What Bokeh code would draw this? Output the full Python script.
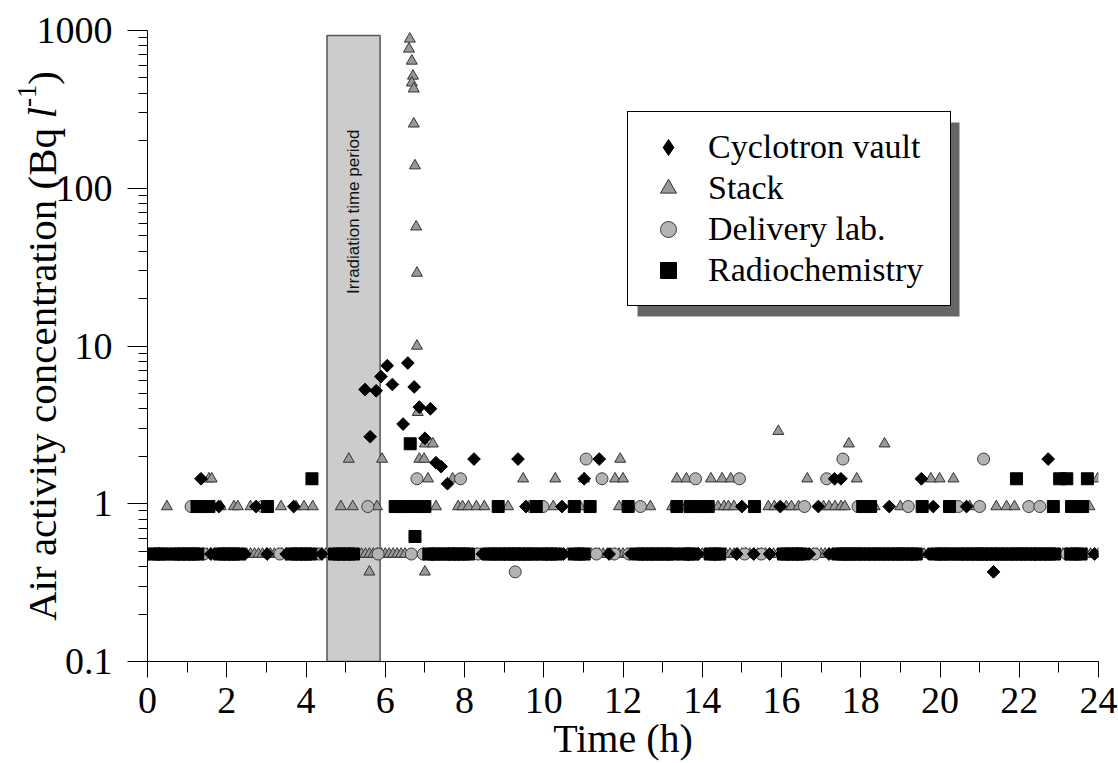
import math
from bokeh.plotting import figure
from bokeh.layouts import row
from bokeh.models import (FixedTicker, Label, BoxAnnotation, Legend, LegendItem, Range1d,
                          ColumnDataSource, CustomJSTickFormatter)
from bokeh.core.properties import value
from bokeh.embed import file_html
from bokeh.resources import INLINE

# ---------------- data ----------------
X_TICKS = [0, 2, 4, 6, 8, 10, 12, 14, 16, 18, 20, 22, 24]
X_MINOR = [1, 3, 5, 7, 9, 11, 13, 15, 17, 19, 21, 23]
Y_TICKS = [0.1, 1, 10, 100, 1000]
Y_MINOR = [0.2, 0.3, 0.4, 0.5, 0.6, 0.7, 0.8, 0.9, 2, 3, 4, 5, 6, 7, 8, 9,
           20, 30, 40, 50, 60, 70, 80, 90, 200, 300, 400, 500, 600, 700, 800, 900]
Y_TICK_LABELS = ["0.1", "1", "10", "100", "1000"]

IRR_START = 4.53
IRR_END = 5.87
IRR_TOP = 930

# Cyclotron vault (diamonds)
cyc_at_037 = [21.35]
cyc_at_048 = [0.6, 1.6, 2.46, 3.02, 3.5, 4.4, 7.75, 8.45, 9.2, 10.5, 11.65, 12.2, 13.9, 14.87,
              15.3, 15.7, 16.0, 16.7, 17.2, 19.0, 19.72, 21.6, 22.4, 23.9]
cyc_at_096 = [1.8, 2.74, 3.69, 6.32, 9.55, 10.46, 15.0, 15.97, 16.93, 18.72, 19.83, 20.67]
cyc_at_144 = [1.35, 11.02, 17.34, 17.5, 19.53]
cyc_at_192 = [8.24, 9.35, 11.4, 22.73]
cyc_peak_t = [5.49, 5.62, 5.77, 5.89, 6.05, 6.18, 6.45, 6.57, 6.73, 6.86, 7.0, 7.14, 7.28, 7.41, 7.57]
cyc_peak_v = [5.3, 2.66, 5.2, 6.4, 7.5, 5.7, 3.2, 7.8, 5.5, 4.1, 2.6, 4.0, 1.82, 1.72, 1.34]

# Stack (triangles)
stack_at_037 = [5.6, 7.0]
stack_at_048 = [0.0, 0.1, 0.2, 0.3, 0.4, 0.5, 0.6, 0.7, 0.8, 0.9, 1.0, 1.1, 1.2, 1.3, 1.4, 1.5,
                1.6, 1.7, 1.8, 1.9, 2.0, 2.1, 2.2, 2.3, 2.4, 2.5, 2.6, 2.7, 2.8, 2.9, 3.0, 3.1,
                3.2, 3.3, 3.4, 3.5, 3.6, 3.7, 3.8, 3.9, 4.0, 4.1, 4.2, 4.3, 4.4, 4.5, 4.6, 4.7,
                4.8, 4.9, 5.0, 5.1, 5.2, 5.3, 5.4, 5.5, 5.6, 5.7, 5.8, 5.9, 6.0, 6.1, 6.2, 6.3,
                6.4, 6.5, 7.4, 7.5, 7.6, 7.7, 7.8, 7.9, 8.0, 8.1, 8.2, 8.3, 8.4, 8.5, 8.6, 8.7,
                8.8, 8.9, 9.0, 9.1, 9.2, 9.3, 9.4, 9.5, 9.6, 9.7, 9.8, 9.9, 10.0, 10.1, 10.2,
                10.3, 10.4, 10.5, 10.6, 10.7, 10.8, 10.9, 11.0, 11.1, 11.2, 11.3, 11.4, 11.5,
                11.6, 11.7, 11.8, 11.9, 12.0, 12.1, 12.2, 12.3, 12.4, 12.5, 12.6, 12.7, 12.8,
                12.9, 13.0, 13.1, 13.2, 13.3, 13.4, 13.5, 13.6, 13.7, 13.8, 13.9, 14.0, 14.1,
                14.2, 14.3, 14.4, 14.5, 14.6, 14.7, 14.8, 14.9, 15.0, 15.1, 15.2, 15.3, 15.4,
                15.5, 15.6, 15.7, 15.8, 15.9, 16.0, 16.1, 16.2, 16.3, 16.4, 16.5, 16.6, 16.7,
                16.8, 16.9, 17.0, 17.1, 17.2, 17.3, 17.4, 17.5, 17.6, 17.7, 17.8, 17.9, 18.0,
                18.1, 18.2, 18.3, 18.4, 18.5, 18.6, 18.7, 18.8, 18.9, 19.0, 19.1, 19.2, 19.3,
                19.4, 19.5, 19.6, 19.7, 19.8, 19.9, 20.0, 20.1, 20.2, 20.3, 20.4, 20.5, 20.6,
                20.7, 20.8, 20.9, 21.0, 21.1, 21.2, 21.3, 21.4, 21.5, 21.6, 21.7, 21.8, 21.9,
                22.0, 22.1, 22.2, 22.3, 22.4, 22.5, 22.6, 22.7, 22.8, 22.9, 23.0, 23.1, 23.2,
                23.3, 23.4, 23.5, 23.6, 23.7, 23.8, 23.9, 24.0]
stack_at_096 = [0.49, 1.85, 2.18, 2.28, 2.6, 3.37, 3.75, 3.95, 4.17, 4.88, 5.18, 5.79, 7.28,
                7.84, 7.95, 8.1, 8.3, 8.5, 9.1, 10.24, 10.92, 11.9, 12.69, 13.24, 13.59, 14.4,
                14.55, 14.66, 14.8, 15.67, 15.82, 16.12, 16.25, 16.43, 17.06, 17.2, 17.35, 17.5,
                17.6, 18.35, 19.0, 20.75, 21.42, 21.68, 21.88, 23.77]
stack_at_144 = [1.55, 1.62, 7.08, 7.7, 9.48, 10.29, 11.02, 11.8, 12.0, 13.36, 13.6, 14.22,
                14.5, 14.72, 16.65, 17.9, 19.77, 19.99, 20.34, 23.98]
stack_at_192 = [5.08, 5.92, 6.86, 6.98, 11.93]
stack_at_240 = [7.0, 7.2, 17.7, 18.6]
stack_at_288 = [15.92]
stack_peak_t = [6.62, 6.6, 6.67, 6.7, 6.67, 6.72, 6.72, 6.75, 6.78, 6.8, 6.8, 6.82]
stack_peak_v = [884, 764, 641, 515, 466, 427, 256, 139, 57, 29, 10, 3.8]

# Delivery lab. (circles)
del_at_037 = [9.28]
del_at_048 = [0.03, 0.46, 1.42, 3.34, 4.33, 5.82, 6.66, 6.96, 8.34, 8.54, 9.8, 11.33, 11.78,
              12.15, 13.4, 15.07, 15.49, 16.84, 17.94, 21.3, 22.4, 23.2]
del_at_096 = [1.1, 2.9, 5.56, 9.68, 9.98, 12.44, 16.58, 17.93, 19.2, 20.46, 21.0, 22.24, 22.52]
del_at_144 = [6.8, 7.9, 11.47, 13.83, 14.94, 17.14]
del_at_192 = [11.07, 17.55, 21.1]

# Radiochemistry (squares)
rad_at_048 = [0.16, 0.28, 0.4, 0.68, 0.8, 0.92, 1.04, 1.16, 1.27, 1.82, 1.94, 2.06, 2.18, 2.3,
              3.64, 3.76, 3.88, 4.0, 4.12, 4.72, 4.84, 4.96, 5.08, 5.2, 7.1, 7.22, 7.32, 7.5,
              7.62, 7.74, 7.86, 7.98, 8.1, 8.62, 8.74, 8.88, 9.02, 9.14, 9.26, 9.38, 9.5, 9.62,
              9.74, 9.95, 10.07, 10.19, 10.32, 10.77, 10.9, 11.02, 12.38, 12.5, 12.62, 12.74,
              12.86, 13.0, 13.12, 13.24, 13.54, 13.66, 13.76, 14.2, 14.32, 14.44, 16.05, 16.17,
              16.29, 16.41, 16.5, 17.42, 17.54, 17.66, 17.72, 17.86, 17.98, 18.1, 18.22, 18.34,
              18.46, 18.58, 18.7, 18.82, 18.94, 19.06, 19.18, 19.3, 19.4, 19.9, 20.02, 20.14,
              20.28, 20.46, 20.58, 20.7, 20.82, 20.94, 21.06, 21.14, 21.3, 21.42, 21.54, 21.7,
              21.82, 21.94, 22.05, 22.17, 22.29, 22.41, 22.53, 22.65, 22.77, 22.89, 23.3,
              23.42, 23.56]
rad_at_062 = [6.75]
rad_at_096 = [1.25, 1.4, 1.55, 3.03, 6.25, 6.4, 6.55, 6.85, 7.0, 8.85, 9.81, 10.77, 11.17,
              12.13, 13.36, 13.7, 13.85, 14.0, 14.15, 15.32, 18.05, 18.25, 19.55, 20.24, 22.86,
              23.32, 23.45, 23.6]
rad_at_144 = [4.15, 21.93, 23.02, 23.2, 23.72]
rad_at_240 = [6.63]


def build(level_lists, peak_t=(), peak_v=()):
    xs, ys = [], []
    for lvl, ts in level_lists:
        xs += list(ts)
        ys += [lvl] * len(ts)
    xs += list(peak_t)
    ys += list(peak_v)
    return ColumnDataSource(dict(x=xs, y=ys))


src_cyc = build([(0.37, cyc_at_037), (0.48, cyc_at_048), (0.96, cyc_at_096),
                 (1.44, cyc_at_144), (1.92, cyc_at_192)], cyc_peak_t, cyc_peak_v)
src_stack = build([(0.37, stack_at_037), (0.48, stack_at_048), (0.96, stack_at_096),
                   (1.44, stack_at_144), (1.92, stack_at_192), (2.4, stack_at_240),
                   (2.88, stack_at_288)], stack_peak_t, stack_peak_v)
src_del = build([(0.37, del_at_037), (0.48, del_at_048), (0.96, del_at_096),
                 (1.44, del_at_144), (1.92, del_at_192)])
src_rad = build([(0.48, rad_at_048), (0.62, rad_at_062), (0.96, rad_at_096),
                 (1.44, rad_at_144), (2.4, rad_at_240)])

SERIF = "Liberation Serif"

# ---------------- layout geometry ----------------
H = 763
TOP = 30
BOTTOM = 101
LEFT_W = 115           # strip holding the y title and y tick labels
MAIN_W = 1118 - LEFT_W
FRAME_H = H - TOP - BOTTOM
DEC = FRAME_H / 4.0    # pixels per decade

# ---------------- main figure ----------------
p = figure(width=MAIN_W, height=H, y_axis_type="log",
           x_range=Range1d(0, 24), y_range=Range1d(Y_TICKS[0], Y_TICKS[-1]),
           output_backend="svg", toolbar_location=None,
           min_border_left=147 - LEFT_W, min_border_right=20,
           min_border_top=TOP, min_border_bottom=BOTTOM)
p.outline_line_color = None
p.xgrid.visible = False
p.ygrid.visible = False
p.background_fill_color = "white"
p.border_fill_color = "white"

p.xaxis.ticker = FixedTicker(ticks=X_TICKS, minor_ticks=X_MINOR)
p.yaxis.ticker = FixedTicker(ticks=Y_TICKS, minor_ticks=Y_MINOR)

for ax in (p.xaxis[0], p.yaxis[0]):
    ax.axis_line_color = "black"
    ax.axis_line_width = 1
    ax.major_tick_line_color = "black"
    ax.minor_tick_line_color = "black"
    ax.major_tick_in = 0
    ax.minor_tick_in = 0
    ax.major_label_text_font = SERIF
    ax.major_label_text_color = "black"

p.xaxis.major_label_text_font_size = "38px"
p.xaxis.major_tick_out = 16
p.xaxis.minor_tick_out = 11
p.xaxis.major_label_standoff = 10
p.yaxis.major_tick_out = 20
p.yaxis.minor_tick_out = 9
# y tick labels are drawn in the left strip (so the title can sit beside them)
p.yaxis.formatter = CustomJSTickFormatter(code="return ''")
p.yaxis.major_label_text_font_size = "10px"
p.yaxis.major_label_standoff = 0

p.xaxis.axis_label = "Time (h)"
p.xaxis.axis_label_text_font = SERIF
p.xaxis.axis_label_text_font_size = "40px"
p.xaxis.axis_label_text_font_style = "normal"
p.xaxis.axis_label_text_color = "black"
p.xaxis.axis_label_standoff = 0

# irradiation period box
p.quad(left=[IRR_START], right=[IRR_END], bottom=[Y_TICKS[0]], top=[IRR_TOP],
       fill_color="#cccccc", line_color="#555555", line_width=1.5)
p.add_layout(Label(x=(IRR_START + IRR_END) / 2, y=FRAME_H - 100, x_units="data", y_units="screen",
                   text="Irradiation time period", angle=math.pi / 2,
                   text_align="right", text_baseline="middle",
                   text_font="Liberation Sans", text_font_size="17px", text_color="#111111"))

# series
r_stack = p.scatter("x", "y", source=src_stack, marker="triangle", size=11,
                    fill_color="#999999", line_color="#333333", line_width=1)
r_del = p.scatter("x", "y", source=src_del, marker="circle", size=12,
                  fill_color="#b3b3b3", line_color="#3a3a3a", line_width=1)
# legend proxy (diamond glyph for the legend only; hidden under the real markers)
r_cyc_leg = p.scatter("x", "y", source=src_cyc, marker="diamond", size=2,
                      fill_color="black", line_color="black", line_width=1)
r_cyc = p.scatter("x", "y", source=src_cyc, marker="square", angle=math.pi / 4, size=9,
                  fill_color="black", line_color="black")
r_rad = p.scatter("x", "y", source=src_rad, marker="square", size=12,
                  fill_color="black", line_color="black")

# legend shadow
p.add_layout(BoxAnnotation(left=490, right=812, bottom=FRAME_H - 287, top=FRAME_H - 93,
                           left_units="screen", right_units="screen",
                           bottom_units="screen", top_units="screen",
                           fill_color="#666666", fill_alpha=1, line_color=None))

legend = Legend(items=[LegendItem(label="Cyclotron vault", renderers=[r_cyc_leg]),
                       LegendItem(label="Stack", renderers=[r_stack]),
                       LegendItem(label="Delivery lab.", renderers=[r_del]),
                       LegendItem(label="Radiochemistry", renderers=[r_rad])],
                location=(480, FRAME_H - 277), border_line_color="black", border_line_width=1,
                border_line_alpha=1, background_fill_color="white", background_fill_alpha=1,
                label_text_font=SERIF, label_text_font_size="34px", label_text_color="black",
                glyph_width=50, glyph_height=40, label_height=40, label_width=227,
                label_standoff=15, padding=15, spacing=1, margin=0)
p.add_layout(legend)

# ---------------- left strip: y tick labels and y title ----------------
# (its frame is aligned with the main plot's frame by the row layout)
left = figure(width=LEFT_W, height=H, y_axis_type="log",
              x_range=Range1d(0, LEFT_W), y_range=Range1d(Y_TICKS[0], Y_TICKS[-1]),
              output_backend="svg", toolbar_location=None,
              x_axis_location=None, y_axis_location=None,
              min_border_left=0, min_border_right=0,
              min_border_top=TOP, min_border_bottom=BOTTOM)
left.outline_line_color = None
left.xgrid.visible = False
left.ygrid.visible = False
left.background_fill_color = "white"
left.border_fill_color = "white"

left.text(x=[112] * len(Y_TICKS), y=Y_TICKS, text=Y_TICK_LABELS,
          text_font=value(SERIF), text_font_size=value("38px"), text_color="black",
          text_align="right", text_baseline="middle", level="overlay")


def py_to_val(py):
    """canvas pixel row -> value on the shared log scale"""
    return 10 ** (math.log10(Y_TICKS[-1]) - (py - TOP) / DEC)


F = 41
FS = 27
base_x = 41
center_py = TOP + FRAME_H / 2
w_main = 12.276 * F
w_l = 0.278 * F
w_sup = 0.833 * FS
w_par = 0.333 * F
total = w_main + w_l + w_sup + w_par
start = center_py + total / 2
pieces = [("Air activity concentration (Bq ", start, base_x, F, "normal"),
          ("l", start - w_main, base_x, F, "italic"),
          ("-1", start - w_main - w_l, base_x - 0.36 * F, FS, "normal"),
          (")", start - w_main - w_l - w_sup, base_x, F, "normal")]
for txt, py, xx, fs, style in pieces:
    left.text(x=[xx], y=[py_to_val(py)], text=[txt], angle=math.pi / 2,
              text_font=value(SERIF), text_font_size=value(f"{fs}px"),
              text_font_style=style, text_color="black",
              text_align="left", text_baseline="alphabetic", level="overlay")

layout = row(left, p, spacing=0)
open("out.html", "w").write(file_html(layout, INLINE))
